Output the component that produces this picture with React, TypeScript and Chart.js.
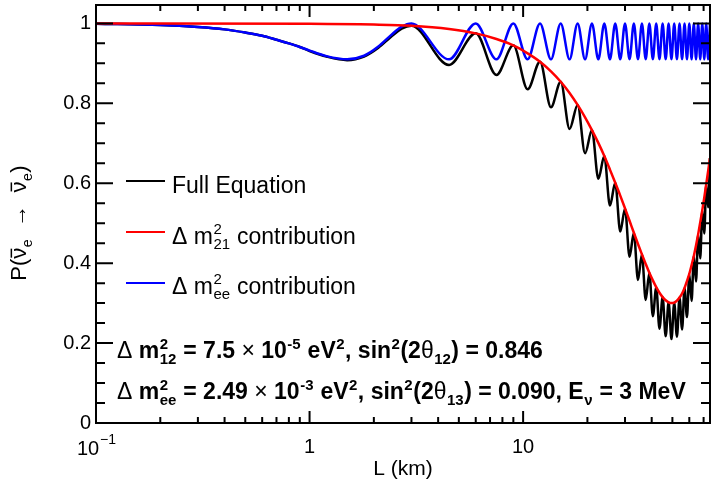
import React, { useEffect, useRef } from 'react';
import { Chart, registerables } from 'chart.js';

Chart.register(...registerables);

const FONT = '"Liberation Sans", Arial, Helvetica, sans-serif';

const X_MIN = 0.1;
const X_MAX = 75;
const Y_MIN = 0;
const Y_MAX = 1.046;

const xMajorTicks = [0.1, 1, 10];
const xMinorTicks = [0.2, 0.3, 0.4, 0.5, 0.6, 0.7, 0.8, 0.9, 2, 3, 4, 5, 6, 7, 8, 9, 20, 30, 40, 50, 60, 70];
const yMajorTicks = [0, 0.2, 0.4, 0.6, 0.8, 1];
const yMinorTicks = [0.05, 0.1, 0.15, 0.25, 0.3, 0.35, 0.45, 0.5, 0.55, 0.65, 0.7, 0.75, 0.85, 0.9, 0.95];

// Δm²21 contribution (red)
const redL = [0.1, 1, 2, 3, 4.5, 6, 7.5, 9, 10.5, 12, 13.5, 15, 16.5, 18, 19.5, 21, 22.5, 24, 25.5, 27, 28.5, 30, 31.5, 33, 34.5, 36, 37.5, 39, 40.5, 42, 43.5, 45, 46.5, 48, 49.5, 51, 52.5, 54, 55.5, 57, 58.5, 60, 61.5, 63, 64.5, 66, 67.5, 69, 70.5, 72, 73.5, 75];
const redP = [1.000, 0.999, 0.997, 0.994, 0.986, 0.975, 0.961, 0.945, 0.925, 0.904, 0.880, 0.854, 0.826, 0.796, 0.765, 0.733, 0.701, 0.668, 0.634, 0.601, 0.569, 0.537, 0.506, 0.476, 0.448, 0.422, 0.398, 0.376, 0.357, 0.340, 0.326, 0.315, 0.307, 0.302, 0.300, 0.301, 0.306, 0.314, 0.324, 0.338, 0.355, 0.373, 0.395, 0.418, 0.444, 0.472, 0.502, 0.532, 0.564, 0.597, 0.630, 0.663];

// Δm²ee contribution (blue) and full equation (black) share the same L samples
const oscL = [0.1, 0.2, 0.3, 0.4, 0.5, 0.6, 0.7, 0.8, 0.9, 1.0, 1.2, 1.5, 1.8, 2.1, 2.4, 2.7, 3, 4.5, 6, 7.5, 9, 10.5, 12, 13.5, 15, 16.5, 18, 19.5, 21, 22.5, 24, 25.5, 27, 28.5, 30, 31.5, 33, 34.5, 36, 37.5, 39, 40.5, 42, 43.5, 45, 46.5, 48, 49.5, 51, 52.5, 54, 55.5, 57, 58.5, 60, 61.5, 63, 64.5, 66, 67.5, 69, 70.5, 72, 73.5, 75];
const blueP = [0.999, 0.996, 0.991, 0.985, 0.977, 0.969, 0.959, 0.950, 0.941, 0.932, 0.918, 0.910, 0.919, 0.942, 0.970, 0.992, 1.000,
  0.910, 1.000, 0.910, 1.000, 0.910, 1.000, 0.910, 1.000, 0.910, 1.000, 0.910, 1.000, 0.910, 1.000, 0.910, 1.000,
  0.910, 1.000, 0.910, 1.000, 0.910, 1.000, 0.910, 1.000, 0.910, 1.000, 0.910, 1.000, 0.910, 1.000, 0.910, 1.000,
  0.910, 1.000, 0.910, 1.000, 0.910, 1.000, 0.910, 1.000, 0.910, 1.000, 0.910, 1.000, 0.910, 1.000, 0.910, 1.000];
const blackP = [0.999, 0.996, 0.991, 0.985, 0.977, 0.969, 0.959, 0.950, 0.941, 0.931, 0.917, 0.908, 0.917, 0.939, 0.966, 0.987, 0.994,
  0.896, 0.975, 0.871, 0.945, 0.835, 0.904, 0.790, 0.854, 0.736, 0.796, 0.675, 0.733, 0.611, 0.668, 0.544, 0.601,
  0.479, 0.537, 0.416, 0.476, 0.358, 0.422, 0.308, 0.376, 0.267, 0.340, 0.236, 0.315, 0.217, 0.302, 0.210, 0.301,
  0.216, 0.314, 0.234, 0.338, 0.265, 0.373, 0.305, 0.418, 0.354, 0.472, 0.412, 0.532, 0.474, 0.597, 0.540, 0.663];

interface Part { t?: string; sup?: string; sub?: string; thin?: boolean; bar?: boolean }

function fnt(size: number, bold: boolean) {
  return `${bold ? 'bold ' : ''}${size}px ${FONT}`;
}

function drawRich(ctx: CanvasRenderingContext2D, x: number, y: number, parts: Part[], size: number, bold: boolean, draw = true): number {
  const small = Math.round(size * 0.64);
  let cx = x;
  for (const p of parts) {
    if (p.t !== undefined) {
      ctx.font = fnt(size, bold && !p.thin);
      const w = ctx.measureText(p.t).width;
      if (draw) {
        ctx.fillText(p.t, cx, y);
        if (p.bar) ctx.fillRect(cx + 1, y - size * 0.7, w - 2, 1.5);
      }
      cx += w;
    } else {
      ctx.font = fnt(small, bold);
      let w = 0;
      if (p.sup !== undefined) {
        if (draw) ctx.fillText(p.sup, cx + 0.5, y - size * 0.4);
        w = Math.max(w, ctx.measureText(p.sup).width);
      }
      if (p.sub !== undefined) {
        if (draw) ctx.fillText(p.sub, cx + 0.5, y + size * 0.26);
        w = Math.max(w, ctx.measureText(p.sub).width);
      }
      cx += w + 1;
    }
  }
  return cx - x;
}

const yTitle: Part[] = [{ t: 'P(' }, { t: 'ν', bar: true }, { sub: 'e' }, { t: '  →  ' }, { t: 'ν', bar: true }, { sub: 'e' }, { t: ')' }];

const legendEntries: { color: string; parts: Part[] }[] = [
  { color: '#000000', parts: [{ t: 'Full Equation' }] },
  { color: '#ff0000', parts: [{ t: 'Δ m' }, { sup: '2', sub: '21' }, { t: ' contribution' }] },
  { color: '#0000ff', parts: [{ t: 'Δ m' }, { sup: '2', sub: 'ee' }, { t: ' contribution' }] },
];

const noteLine1: Part[] = [
  { t: 'Δ', thin: true }, { t: ' m' }, { sup: '2', sub: '12' }, { t: ' = 7.5 ' }, { t: '×', thin: true }, { t: ' 10' }, { sup: '-5' },
  { t: ' eV' }, { sup: '2' }, { t: ', sin' }, { sup: '2' }, { t: '(2' }, { t: 'θ', thin: true }, { sub: '12' }, { t: ') = 0.846' },
];
const noteLine2: Part[] = [
  { t: 'Δ', thin: true }, { t: ' m' }, { sup: '2', sub: 'ee' }, { t: ' = 2.49 ' }, { t: '×', thin: true }, { t: ' 10' }, { sup: '-3' },
  { t: ' eV' }, { sup: '2' }, { t: ', sin' }, { sup: '2' }, { t: '(2' }, { t: 'θ', thin: true }, { sub: '13' }, { t: ') = 0.090, E' },
  { sub: 'ν' }, { t: ' = 3 MeV' },
];

const framePlugin = {
  id: 'rootFrame',
  afterDraw(chart: any) {
    const ctx: CanvasRenderingContext2D = chart.ctx;
    const { left, right, top, bottom } = chart.chartArea;
    const xs = chart.scales.x;
    const ys = chart.scales.y;
    ctx.save();
    ctx.strokeStyle = '#000';
    ctx.fillStyle = '#000';
    ctx.lineWidth = 2;
    ctx.strokeRect(left, top, right - left, bottom - top);
    ctx.beginPath();
    for (const v of yMajorTicks) {
      const py = ys.getPixelForValue(v);
      ctx.moveTo(left, py); ctx.lineTo(left + 17, py);
      ctx.moveTo(right, py); ctx.lineTo(right - 17, py);
    }
    for (const v of yMinorTicks) {
      const py = ys.getPixelForValue(v);
      ctx.moveTo(left, py); ctx.lineTo(left + 9, py);
      ctx.moveTo(right, py); ctx.lineTo(right - 9, py);
    }
    for (const v of xMajorTicks) {
      const px = xs.getPixelForValue(v);
      ctx.moveTo(px, bottom); ctx.lineTo(px, bottom - 12);
      ctx.moveTo(px, top); ctx.lineTo(px, top + 12);
    }
    for (const v of xMinorTicks) {
      const px = xs.getPixelForValue(v);
      ctx.moveTo(px, bottom); ctx.lineTo(px, bottom - 6);
      ctx.moveTo(px, top); ctx.lineTo(px, top + 6);
    }
    ctx.stroke();

    ctx.textAlign = 'left';
    ctx.textBaseline = 'alphabetic';

    // 10^-1 tick label
    const p01 = xs.getPixelForValue(0.1);
    ctx.font = fnt(20, false);
    ctx.fillText('10', p01 - 19, 455);
    ctx.font = fnt(14, false);
    ctx.fillText('−1', p01 + 4, 444);

    // y axis title (rotated)
    ctx.save();
    const tw = drawRich(ctx, 0, 0, yTitle, 22, false, false);
    ctx.translate(26, 223);
    ctx.rotate(-Math.PI / 2);
    drawRich(ctx, -tw / 2, 0, yTitle, 22, false, true);
    ctx.restore();

    // legend
    const lineYs = [181, 232, 283];
    const textYs = [193, 243.5, 293.5];
    legendEntries.forEach((e, i) => {
      ctx.strokeStyle = e.color;
      ctx.lineWidth = 2;
      ctx.beginPath();
      ctx.moveTo(126, lineYs[i]);
      ctx.lineTo(165, lineYs[i]);
      ctx.stroke();
      ctx.fillStyle = '#000';
      drawRich(ctx, 172, textYs[i], e.parts, 23, false, true);
    });

    // parameter notes
    drawRich(ctx, 117, 358, noteLine1, 23, true, true);
    drawRich(ctx, 117, 399, noteLine2, 23, true, true);
    ctx.restore();
  },
};

export default function App() {
  const ref = useRef<HTMLCanvasElement>(null);
  useEffect(() => {
    const canvas = ref.current;
    if (!canvas) return;
    const mk = (xsArr: number[], ysArr: number[]) => xsArr.map((x, i) => ({ x, y: ysArr[i] }));
    const chart = new Chart(canvas, {
      type: 'line',
      data: {
        datasets: [
          { label: 'Full Equation', data: mk(oscL, blackP), borderColor: '#000000', borderWidth: 2.5, pointRadius: 0, cubicInterpolationMode: 'monotone', fill: false, order: 3 },
          { label: 'Δm²21 contribution', data: mk(redL, redP), borderColor: '#ff0000', borderWidth: 2.5, pointRadius: 0, cubicInterpolationMode: 'monotone', fill: false, order: 1 },
          { label: 'Δm²ee contribution', data: mk(oscL, blueP), borderColor: '#0000ff', borderWidth: 2.5, pointRadius: 0, cubicInterpolationMode: 'monotone', fill: false, order: 2 },
        ],
      },
      options: {
        responsive: false,
        animation: false,
        devicePixelRatio: 1,
        events: [],
        layout: { padding: { top: 5, right: 2, left: 0, bottom: 0 } },
        plugins: { legend: { display: false }, tooltip: { enabled: false } },
        scales: {
          x: {
            type: 'logarithmic',
            min: X_MIN,
            max: X_MAX,
            position: 'bottom',
            grid: { display: false, drawTicks: false },
            border: { display: false },
            ticks: {
              color: '#000',
              font: { family: FONT, size: 20 },
              padding: 12,
              maxRotation: 0,
              autoSkip: false,
              callback: (v: any) => (Number(v) === 0.1 ? '' : String(Number(v))),
            },
            afterBuildTicks: (s: any) => { s.ticks = xMajorTicks.map((value) => ({ value })); },
            afterFit: (s: any) => { s.height = 63; s.paddingLeft = 0; s.paddingRight = 0; },
            title: { display: true, text: 'L (km)', color: '#000', font: { family: FONT, size: 21 }, padding: { top: 0, bottom: 4 } },
          },
          y: {
            type: 'linear',
            min: Y_MIN,
            max: Y_MAX,
            grid: { display: false, drawTicks: false },
            border: { display: false },
            ticks: {
              color: '#000',
              font: { family: FONT, size: 20 },
              padding: 5,
              callback: (v: any) => { const n = Number(v); return n === 0 ? '0' : n === 1 ? '1' : n.toFixed(1); },
            },
            afterBuildTicks: (s: any) => { s.ticks = yMajorTicks.map((value) => ({ value })); },
            afterFit: (s: any) => { s.width = 96; s.paddingTop = 0; s.paddingBottom = 0; },
          },
        },
      } as any,
      plugins: [framePlugin],
    });
    return () => chart.destroy();
  }, []);
  return (
    <div style={{ position: 'absolute', left: 0, top: 0, width: 712, height: 486, background: '#fff' }}>
      <canvas ref={ref} width={712} height={486} style={{ display: 'block' }} />
    </div>
  );
}
